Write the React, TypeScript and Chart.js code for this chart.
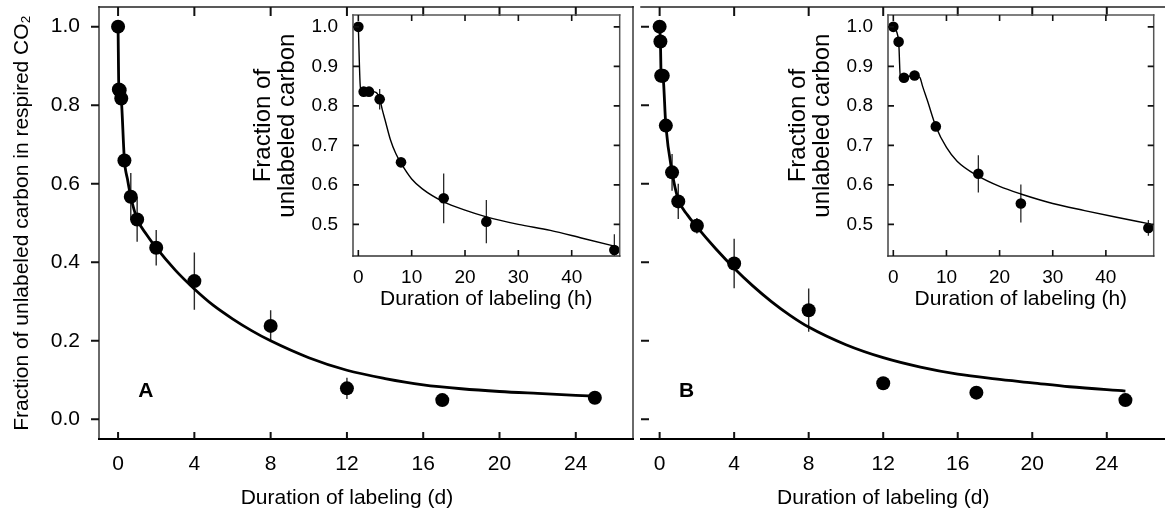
import React, { useEffect, useRef } from "react";
import { Chart, registerables } from "chart.js";

Chart.register(...registerables);

const FONT = "'Liberation Sans', Arial, Helvetica, sans-serif";

// ---------- Panel A, main plot (days) ----------
const daysA = [0, 0.042, 0.083, 0.167, 0.333, 0.667, 1, 2, 4, 8, 12, 17, 25];
const fracA = [1.0, 0.84, 0.838, 0.817, 0.659, 0.567, 0.509, 0.437, 0.352, 0.238, 0.079, 0.049, 0.055];
const errA = [0, 0.008, 0.008, 0.012, 0.015, 0.06, 0.057, 0.045, 0.073, 0.04, 0.027, 0.008, 0.012];
const fitDaysA = [0, 0.042, 0.083, 0.167, 0.333, 0.5, 0.667, 1, 1.5, 2, 3, 4, 5, 6, 7, 8, 10, 12, 14, 16, 18, 20, 22, 25];
const fitFracA = [1.0, 0.84, 0.838, 0.818, 0.66, 0.61, 0.567, 0.51, 0.47, 0.437, 0.38, 0.332, 0.29, 0.256, 0.226, 0.2, 0.157, 0.125, 0.104, 0.088, 0.078, 0.071, 0.066, 0.059];

// ---------- Panel B, main plot (days) ----------
const daysB = [0, 0.042, 0.083, 0.167, 0.333, 0.667, 1, 2, 4, 8, 12, 17, 25];
const fracB = [1.0, 0.962, 0.875, 0.875, 0.748, 0.629, 0.555, 0.493, 0.397, 0.278, 0.092, 0.068, 0.049];
const errB = [0, 0.008, 0.01, 0.01, 0.012, 0.047, 0.045, 0.02, 0.063, 0.055, 0.015, 0.01, 0.015];
const fitDaysB = [0, 0.042, 0.083, 0.167, 0.333, 0.667, 1, 1.5, 2, 3, 4, 5, 6, 7, 8, 10, 12, 14, 16, 18, 20, 22, 25];
const fitFracB = [1.0, 0.962, 0.875, 0.875, 0.748, 0.63, 0.56, 0.52, 0.49, 0.435, 0.385, 0.34, 0.3, 0.265, 0.235, 0.19, 0.157, 0.133, 0.115, 0.103, 0.093, 0.083, 0.072];

// ---------- Inset A (hours) ----------
const hoursA = [0, 1, 2, 4, 8, 16, 24, 48];
const insetFracA = [1.0, 0.836, 0.836, 0.817, 0.657, 0.566, 0.507, 0.435];
const insetErrA = [0, 0.01, 0.01, 0.026, 0.008, 0.063, 0.055, 0.04];
const insetFitHoursA = [0, 0.4, 1, 2, 3.3, 4, 4.5, 5, 6, 7, 8, 10, 12, 16, 20, 24, 30, 36, 42, 48];
const insetFitFracA = [1.0, 0.845, 0.838, 0.837, 0.834, 0.818, 0.79, 0.765, 0.715, 0.68, 0.655, 0.615, 0.59, 0.557, 0.536, 0.519, 0.5, 0.485, 0.465, 0.445];

// ---------- Inset B (hours) ----------
const hoursB = [0, 1, 2, 4, 8, 16, 24, 48];
const insetFracB = [1.0, 0.962, 0.871, 0.877, 0.748, 0.628, 0.553, 0.491];
const insetErrB = [0, 0.008, 0.012, 0.008, 0.01, 0.047, 0.048, 0.02];
const insetFitHoursB = [0, 1, 1.3, 2, 4, 5, 5.5, 6.4, 8, 10, 12, 16, 20, 24, 30, 36, 42, 48];
const insetFitFracB = [1.0, 0.965, 0.878, 0.873, 0.877, 0.872, 0.85, 0.814, 0.748, 0.695, 0.66, 0.622, 0.596, 0.577, 0.553, 0.535, 0.518, 0.502];

// ---------- Axes ----------
const mainXTicks = [0, 4, 8, 12, 16, 20, 24];
const mainYTicks = [0, 0.2, 0.4, 0.6, 0.8, 1.0];
const insetXTicks = [0, 10, 20, 30, 40];
const insetYTicks = [0.5, 0.6, 0.7, 0.8, 0.9, 1.0];
const mainXTitle = "Duration of labeling (d)";
const mainXTitleCenter = 12; // title is centred under this x value
const mainYTitle = "Fraction of unlabeled carbon in respired CO₂";
const insetXTitle = "Duration of labeling (h)";
const insetYTitle = ["Fraction of", "unlabeled carbon"];
const insetYTitleCenter = 0.75; // title is centred beside this y value
const panelLabels = ["A", "B"];
const panelLabelPos = [1.45, 0.072];

const toPts = (xs: number[], ys: number[]) => xs.map((x, i) => ({ x, y: ys[i] }));

type Side = {
  line?: boolean; color?: string; width?: number;
  tick?: "in" | "out"; len?: number; tickColor?: string; tickWidth?: number;
};
type Frame = { left?: Side; right?: Side; top?: Side; bottom?: Side };

function makeFramePlugin(frame: Frame, xTicks: number[], yTicks: number[]) {
  return {
    id: "frame",
    afterDraw(chart: any) {
      const { ctx, chartArea: a, scales } = chart;
      ctx.save();
      (["left", "right", "top", "bottom"] as const).forEach((side) => {
        const s = frame[side];
        if (!s) return;
        if (s.line) {
          const w = s.width || 1;
          ctx.strokeStyle = s.color || "#000";
          ctx.lineWidth = w;
          ctx.beginPath();
          const e = w / 2;
          if (side === "left") { ctx.moveTo(a.left, a.top - e); ctx.lineTo(a.left, a.bottom + e); }
          if (side === "right") { ctx.moveTo(a.right, a.top - e); ctx.lineTo(a.right, a.bottom + e); }
          if (side === "top") { ctx.moveTo(a.left - e, a.top); ctx.lineTo(a.right + e, a.top); }
          if (side === "bottom") { ctx.moveTo(a.left - e, a.bottom); ctx.lineTo(a.right + e, a.bottom); }
          ctx.stroke();
        }
        if (s.tick) {
          const vertical = side === "left" || side === "right";
          const scale = vertical ? scales.y : scales.x;
          const values = vertical ? yTicks : xTicks;
          const dir = s.tick === "in" ? 1 : -1;
          const len = s.len || 5;
          ctx.strokeStyle = s.tickColor || s.color || "#000";
          ctx.lineWidth = s.tickWidth || 1;
          ctx.beginPath();
          values.forEach((v) => {
            const p = scale.getPixelForValue(v);
            if (side === "left") { ctx.moveTo(a.left, p); ctx.lineTo(a.left + dir * len, p); }
            if (side === "right") { ctx.moveTo(a.right, p); ctx.lineTo(a.right - dir * len, p); }
            if (side === "top") { ctx.moveTo(p, a.top); ctx.lineTo(p, a.top + dir * len); }
            if (side === "bottom") { ctx.moveTo(p, a.bottom); ctx.lineTo(p, a.bottom - dir * len); }
          });
          ctx.stroke();
        }
      });
      ctx.restore();
    },
  };
}

function makeErrorBarPlugin(errs: number[], width: number) {
  return {
    id: "errbars",
    beforeDatasetsDraw(chart: any) {
      const { ctx, chartArea: a, scales } = chart;
      const pts = chart.data.datasets[0].data;
      ctx.save();
      ctx.beginPath();
      ctx.rect(a.left, a.top, a.right - a.left, a.bottom - a.top);
      ctx.clip();
      ctx.strokeStyle = "#2a2a2a";
      ctx.lineWidth = width;
      ctx.beginPath();
      pts.forEach((pt: any, i: number) => {
        const e = errs[i];
        if (!e) return;
        const px = scales.x.getPixelForValue(pt.x);
        ctx.moveTo(px, scales.y.getPixelForValue(pt.y - e));
        ctx.lineTo(px, scales.y.getPixelForValue(pt.y + e));
      });
      ctx.stroke();
      ctx.restore();
    },
  };
}

function makeLabelPlugin(label: { text: string; x: number; y: number; size: number } | null) {
  return {
    id: "panelLabel",
    afterDatasetsDraw(chart: any) {
      if (!label) return;
      const { ctx, scales } = chart;
      ctx.save();
      ctx.font = `bold ${label.size}px ${FONT}`;
      ctx.fillStyle = "#000";
      ctx.textAlign = "center";
      ctx.textBaseline = "middle";
      ctx.fillText(label.text, scales.x.getPixelForValue(label.x), scales.y.getPixelForValue(label.y));
      ctx.restore();
    },
  };
}

// Re-centre an axis title on a chosen data value (the library still draws the title).
function centreTitleOn(sc: any, value: number | null) {
  if (value === null || value === undefined) return;
  const proto = Object.getPrototypeOf(sc);
  sc.drawTitle = function () {
    const horiz = this.isHorizontal();
    const target = this.getPixelForValue(value);
    const mid = horiz ? (this.left + this.right) / 2 : (this.top + this.bottom) / 2;
    this.ctx.save();
    if (horiz) this.ctx.translate(target - mid, 0);
    else this.ctx.translate(0, target - mid);
    proto.drawTitle.call(this);
    this.ctx.restore();
  };
}

type Spec = {
  xs: number[]; ys: number[]; errs: number[];
  fitX: number[]; fitY: number[];
  xMin: number; xMax: number; yMin: number; yMax: number;
  xTicks: number[]; yTicks: number[];
  yLabels: boolean;
  xTitle: string; yTitle: string | string[] | null;
  xTitleAt: number | null; yTitleAt: number | null;
  radius: number; lineWidth: number; errWidth: number;
  yWidth: number; xHeight: number;
  padding: any;
  tickSize: number; titleSize: number; yTitleSize: number; yTitleLH: number;
  xTickPad: number; yTickPad: number;
  xTitlePad: number; yTitlePad: number;
  frame: Frame;
  label: { text: string; x: number; y: number; size: number } | null;
};

function buildConfig(s: Spec): any {
  return {
    type: "scatter",
    data: {
      datasets: [
        {
          data: toPts(s.xs, s.ys),
          showLine: false,
          pointRadius: s.radius,
          pointHoverRadius: s.radius,
          backgroundColor: "#000",
          borderColor: "#000",
          pointBorderWidth: 0,
          order: 0,
        },
        {
          data: toPts(s.fitX, s.fitY),
          showLine: true,
          pointRadius: 0,
          borderColor: "#000",
          borderWidth: s.lineWidth,
          cubicInterpolationMode: "monotone",
          fill: false,
          order: 1,
        },
      ],
    },
    options: {
      responsive: false,
      animation: false,
      devicePixelRatio: 1,
      layout: { padding: s.padding },
      events: [],
      plugins: {
        legend: { display: false },
        tooltip: { enabled: false },
      },
      scales: {
        x: {
          type: "linear",
          min: s.xMin,
          max: s.xMax,
          grid: { display: false, drawTicks: false },
          border: { display: false },
          afterBuildTicks: (sc: any) => { sc.ticks = s.xTicks.map((v) => ({ value: v })); },
          afterFit: (sc: any) => {
            sc.height = s.xHeight; sc.paddingLeft = 0; sc.paddingRight = 0;
            centreTitleOn(sc, s.xTitleAt);
          },
          ticks: {
            autoSkip: false,
            maxRotation: 0,
            color: "#000",
            padding: s.xTickPad,
            font: { family: FONT, size: s.tickSize },
            callback: (v: any) => String(v),
          },
          title: {
            display: true,
            text: s.xTitle,
            color: "#000",
            font: { family: FONT, size: s.titleSize },
            padding: { top: 0, bottom: s.xTitlePad },
          },
        },
        y: {
          type: "linear",
          min: s.yMin,
          max: s.yMax,
          display: s.yLabels,
          grid: { display: false, drawTicks: false },
          border: { display: false },
          afterBuildTicks: (sc: any) => { sc.ticks = s.yTicks.map((v) => ({ value: v })); },
          afterFit: (sc: any) => {
            sc.width = s.yWidth; sc.paddingTop = 0; sc.paddingBottom = 0;
            centreTitleOn(sc, s.yTitleAt);
          },
          ticks: {
            autoSkip: false,
            color: "#000",
            padding: s.yTickPad,
            font: { family: FONT, size: s.tickSize },
            callback: (v: any) => Number(v).toFixed(1),
          },
          title: {
            display: !!s.yTitle,
            text: s.yTitle || "",
            color: "#000",
            font: { family: FONT, size: s.yTitleSize, lineHeight: s.yTitleLH },
            padding: { top: s.yTitlePad, bottom: 0 },
          },
        },
      },
    },
    plugins: [
      makeErrorBarPlugin(s.errs, s.errWidth),
      makeFramePlugin(s.frame, s.xTicks, s.yTicks),
      makeLabelPlugin(s.label),
    ],
  };
}

const mainFrameA: Frame = {
  left: { line: true, color: "#6a6a6a", width: 2, tick: "out", len: 8, tickColor: "#111", tickWidth: 2 },
  top: { line: true, color: "#222", width: 1.5, tick: "in", len: 9, tickColor: "#111", tickWidth: 2 },
  bottom: { line: true, color: "#000", width: 2, tick: "in", len: 7, tickColor: "#111", tickWidth: 2 },
  right: { line: true, color: "#6a6a6a", width: 2 },
};
const mainFrameB: Frame = {
  left: { line: false, tick: "in", len: 8, tickColor: "#111", tickWidth: 2 },
  top: { line: true, color: "#222", width: 1.5, tick: "in", len: 9, tickColor: "#111", tickWidth: 2 },
  bottom: { line: true, color: "#000", width: 2, tick: "in", len: 7, tickColor: "#111", tickWidth: 2 },
};
const insetFrame: Frame = {
  left: { line: true, color: "#444", width: 1.5, tick: "in", len: 6, tickColor: "#111", tickWidth: 1.6 },
  right: { line: true, color: "#555", width: 1.5, tick: "in", len: 6, tickColor: "#111", tickWidth: 1.6 },
  top: { line: true, color: "#555", width: 1.5, tick: "in", len: 6, tickColor: "#111", tickWidth: 1.6 },
  bottom: { line: true, color: "#333", width: 1.5, tick: "in", len: 6, tickColor: "#111", tickWidth: 1.6 },
};

const mainCommon = {
  xMin: -1, yMin: -0.05, yMax: 1.05,
  xTicks: mainXTicks, yTicks: mainYTicks,
  xTitle: mainXTitle, xTitleAt: mainXTitleCenter, yTitleAt: null,
  radius: 7, lineWidth: 2.8, errWidth: 1.4,
  xHeight: 79,
  tickSize: 21, titleSize: 21, yTitleSize: 21, yTitleLH: 1.2,
  xTickPad: 13, yTickPad: 19,
  xTitlePad: 7, yTitlePad: 10,
};

const insetCommon = {
  xMin: -1, xMax: 49, yMin: 0.42, yMax: 1.03,
  xTicks: insetXTicks, yTicks: insetYTicks,
  yLabels: true,
  xTitle: insetXTitle, yTitle: insetYTitle,
  xTitleAt: null, yTitleAt: insetYTitleCenter,
  radius: 5.3, lineWidth: 1.4, errWidth: 1.3,
  yWidth: 113, xHeight: 64,
  padding: { top: 15, right: 4, left: 0, bottom: 0 },
  tickSize: 19, titleSize: 21, yTitleSize: 24, yTitleLH: 1.0,
  xTickPad: 10, yTickPad: 15,
  xTitlePad: 8, yTitlePad: 11,
  frame: insetFrame,
  label: null,
};

const specs: { box: number[]; spec: Spec }[] = [
  {
    box: [0, 0, 640, 518],
    spec: {
      ...mainCommon, xMax: 27,
      xs: daysA, ys: fracA, errs: errA, fitX: fitDaysA, fitY: fitFracA,
      yLabels: true, yTitle: mainYTitle, yWidth: 99,
      padding: { top: 7, right: 6, left: 0, bottom: 0 },
      frame: mainFrameA,
      label: { text: panelLabels[0], x: panelLabelPos[0], y: panelLabelPos[1], size: 21 },
    } as Spec,
  },
  {
    box: [634, 0, 545, 518],
    spec: {
      ...mainCommon, xMax: 27.5,
      xs: daysB, ys: fracB, errs: errB, fitX: fitDaysB, fitY: fitFracB,
      yLabels: false, yTitle: null, yWidth: 0,
      padding: { top: 7, right: 0, left: 0, bottom: 0 },
      frame: mainFrameB,
      label: { text: panelLabels[1], x: panelLabelPos[0], y: panelLabelPos[1], size: 21 },
    } as Spec,
  },
  {
    box: [240, 0, 385, 320],
    spec: {
      ...insetCommon,
      xs: hoursA, ys: insetFracA, errs: insetErrA, fitX: insetFitHoursA, fitY: insetFitFracA,
    } as Spec,
  },
  {
    box: [775, 0, 384, 320],
    spec: {
      ...insetCommon,
      xs: hoursB, ys: insetFracB, errs: insetErrB, fitX: insetFitHoursB, fitY: insetFitFracB,
    } as Spec,
  },
];

function ChartCanvas({ box, spec }: { box: number[]; spec: Spec }) {
  const ref = useRef<HTMLCanvasElement | null>(null);
  useEffect(() => {
    if (!ref.current) return;
    const chart = new Chart(ref.current, buildConfig(spec));
    return () => chart.destroy();
  }, []);
  const [left, top, width, height] = box;
  return (
    <canvas
      ref={ref}
      width={width}
      height={height}
      style={{ position: "absolute", left, top, width, height }}
    />
  );
}

export default function App() {
  return (
    <div
      style={{
        position: "absolute",
        left: 0,
        top: 0,
        width: 1165,
        height: 518,
        background: "#fff",
        overflow: "hidden",
      }}
    >
      {specs.map((s, i) => (
        <ChartCanvas key={i} box={s.box} spec={s.spec} />
      ))}
    </div>
  );
}
